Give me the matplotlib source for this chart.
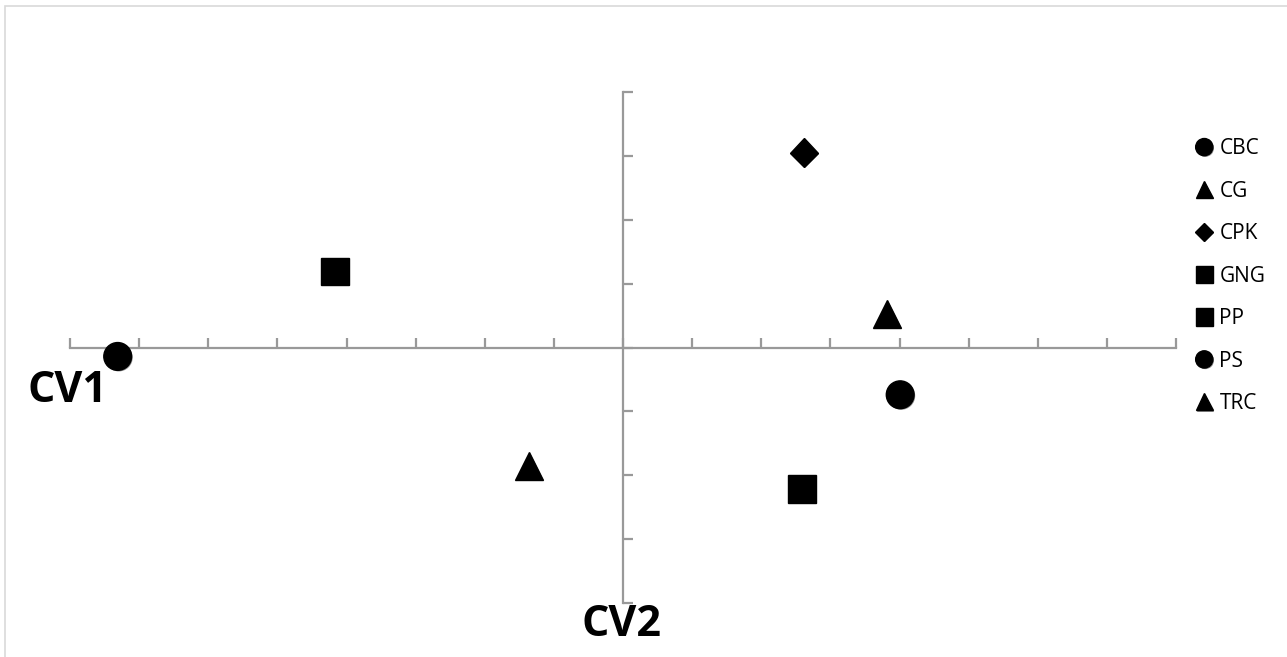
import matplotlib.pyplot as plt
import matplotlib.patheffects as pe
from matplotlib.patches import Rectangle

# canonical variate scores
groups = ['CBC', 'CG', 'CPK', 'GNG', 'PP', 'PS', 'TRC']
cv1 = [-7.31, -1.36, 2.62, -4.17, 2.59, 4.01, 3.82]
cv2 = [-0.14, -1.85, 3.05, 1.19, -2.22, -0.74, 0.53]
markers = ['o', '^', 'D', 's', 's', 'o', '^']
sizes = [20, 20, 14.5, 20, 20, 20, 20]

plt.rcParams['font.family'] = ['Open Sans', 'DejaVu Sans']

W, H = 1287, 657
fig = plt.figure(figsize=(W / 100, H / 100), dpi=100)

# light chart-area border (runs off the right/bottom edge)
fig.patches.append(Rectangle((5 / W, -0.1), 1.2, 1 - 6 / H + 0.1,
                             transform=fig.transFigure, fill=False,
                             edgecolor='#d9d9d9', linewidth=1.2))

ax = fig.add_axes([70 / W, (H - 603) / H, 1106 / W, 511 / H])
ax.set_xlim(-8, 8)
ax.set_ylim(-4, 4)
ax.patch.set_alpha(0)

for side in ['top', 'right']:
    ax.spines[side].set_visible(False)
for side in ['left', 'bottom']:
    ax.spines[side].set_position('zero')
    ax.spines[side].set_color('#999999')
    ax.spines[side].set_linewidth(1.6)

ax.set_xticks(range(-8, 9))
ax.set_yticks(range(-4, 5))
ax.tick_params(direction='in', length=7.5, width=1.6, color='#999999',
               labelbottom=False, labelleft=False)

shadow = [pe.SimplePatchShadow(offset=(0.8, -0.8), shadow_rgbFace='#909090',
                               alpha=1.0), pe.Normal()]
for x, y, m, s, g in zip(cv1, cv2, markers, sizes, groups):
    ax.plot(x, y, linestyle='none', marker=m, markersize=s, color='black',
            label=g, path_effects=shadow, clip_on=False, zorder=3)

leg = ax.legend(loc='upper left', bbox_to_anchor=(1185 / W, (H - 128) / H),
                bbox_transform=fig.transFigure, frameon=False,
                fontsize=15, markerscale=0.62, handlelength=0.85,
                handletextpad=0.3, labelspacing=1.03, borderpad=0)

fig.text(27 / W, (H - 390) / H, 'CV1', fontsize=31, fontweight='bold',
         ha='left', va='center')
fig.text(622 / W, (H - 624) / H, 'CV2', fontsize=31, fontweight='bold',
         ha='center', va='center')

fig.savefig('out.png', dpi=100)
